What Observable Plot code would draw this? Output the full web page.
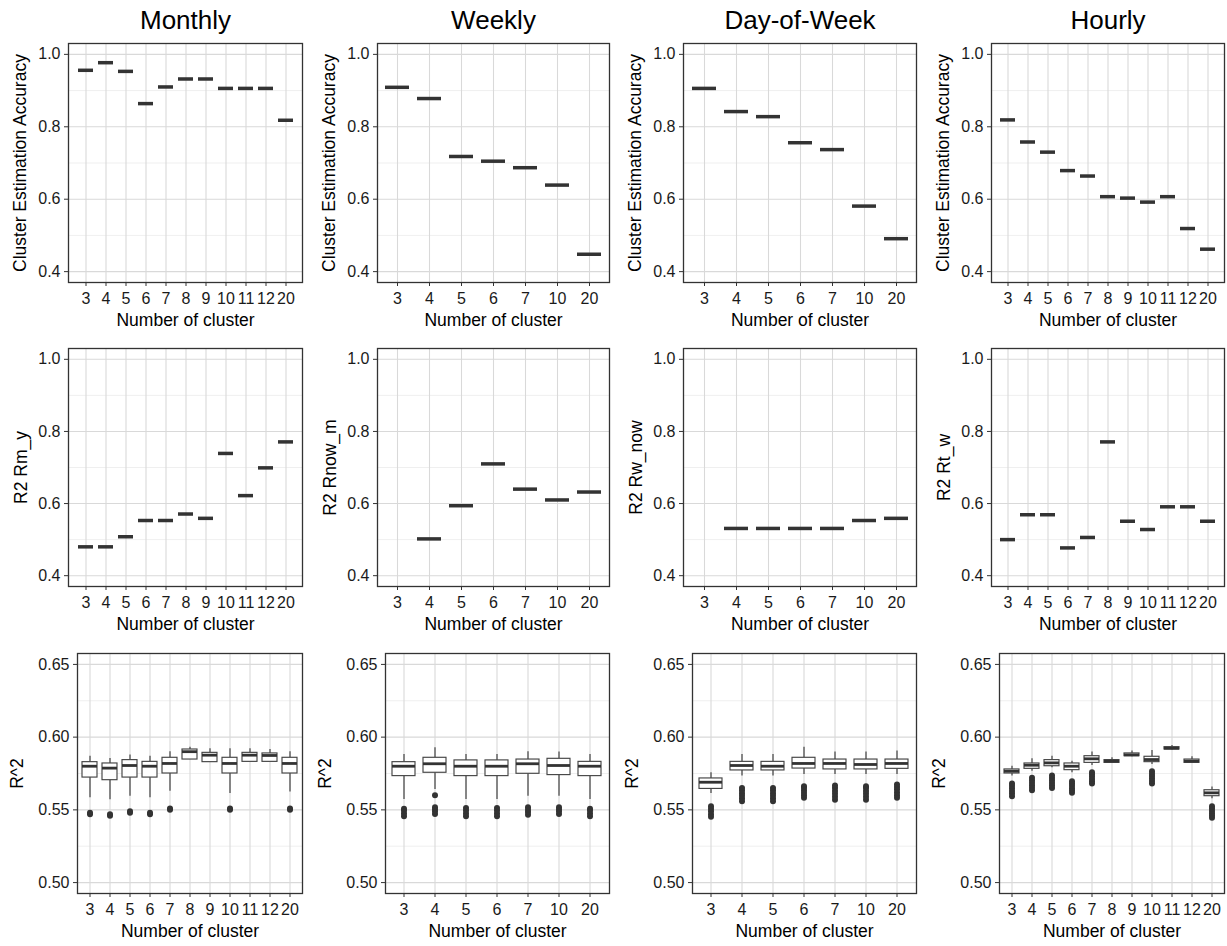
<!DOCTYPE html>
<html><head><meta charset="utf-8">
<script src="https://cdn.jsdelivr.net/npm/d3@7"></script>
<script src="https://cdn.jsdelivr.net/npm/@observablehq/plot@0.6"></script>
<style>
body{margin:0;background:#fff;}
#chart{position:relative;width:1227px;height:946px;font-family:"Liberation Sans",Arial,sans-serif;}
#chart svg{position:absolute;}
</style></head><body><div id="chart"></div>
<script>
// ---------- data ----------
const titles = ["Monthly", "Weekly", "Day-of-Week", "Hourly"];
const clustersMonthly = ["3","4","5","6","7","8","9","10","11","12","20"];
const clustersWeekly  = ["3","4","5","6","7","10","20"];
const clustersDow     = ["3","4","5","6","7","10","20"];
const clustersHourly  = ["3","4","5","6","7","8","9","10","11","12","20"];

const accLabel = "Cluster Estimation Accuracy";
const accMonthly = [0.956,0.977,0.953,0.864,0.910,0.932,0.932,0.906,0.906,0.906,0.818];
const accWeekly  = [0.909,0.878,0.718,0.705,0.687,0.639,0.448];
const accDow     = [0.906,0.842,0.828,0.756,0.737,0.581,0.491];
const accHourly  = [0.819,0.758,0.730,0.679,0.664,0.607,0.603,0.592,0.607,0.519,0.462];

const r2Labels = ["R2 Rm_y", "R2 Rnow_m", "R2 Rw_now", "R2 Rt_w"];
const r2Monthly = [0.480,0.480,0.508,0.553,0.553,0.571,0.559,0.739,0.622,0.699,0.771];
const r2Weekly  = [null,0.502,0.594,0.710,0.640,0.610,0.632];
const r2Dow     = [null,0.531,0.531,0.531,0.531,0.553,0.559];
const r2Hourly  = [0.500,0.569,0.569,0.477,0.506,0.771,0.551,0.528,0.591,0.591,0.551];

const boxLabel = "R^2";
// [lower whisker, Q1, median, Q3, upper whisker]
const boxMonthly = [
  [0.5583,0.5722,0.5800,0.5828,0.5869],[0.5570,0.5704,0.5787,0.5819,0.5853],
  [0.5594,0.5722,0.5805,0.5842,0.5878],[0.5583,0.5722,0.5800,0.5830,0.5869],
  [0.5628,0.5750,0.5819,0.5858,0.5900],[0.5846,0.5846,0.5900,0.5915,0.5931],
  [0.5828,0.5828,0.5876,0.5892,0.5920],[0.5612,0.5750,0.5819,0.5858,0.5920],
  [0.5830,0.5830,0.5876,0.5892,0.5920],[0.5830,0.5830,0.5874,0.5888,0.5915],
  [0.5622,0.5750,0.5819,0.5858,0.5900]];
const outMonthly = [[0.547,0.548],[0.546,0.547],[0.548,0.549],[0.547,0.548],[0.550,0.551],[],[],[0.550,0.551],[],[],[0.550,0.551]];

const boxWeekly = [
  [0.5571,0.5732,0.5800,0.5828,0.5881],[0.5640,0.5755,0.5817,0.5858,0.5927],
  [0.5571,0.5732,0.5800,0.5840,0.5881],[0.5571,0.5732,0.5800,0.5840,0.5881],
  [0.5594,0.5748,0.5817,0.5846,0.5900],[0.5594,0.5739,0.5805,0.5851,0.5897],
  [0.5571,0.5732,0.5800,0.5830,0.5881]];
const outWeekly = [
  [0.5456,0.5475,0.5495,0.5507],[0.5600,0.5472,0.5490,0.5505,0.5518],
  [0.5456,0.5475,0.5495,0.5513],[0.5456,0.5475,0.5495,0.5513],
  [0.5466,0.5485,0.5500,0.5518],[0.5472,0.5490,0.5505,0.5518],
  [0.5456,0.5475,0.5495,0.5507]];

const boxDow = [
  [0.5612,0.5644,0.5690,0.5716,0.5755],[0.5732,0.5771,0.5805,0.5830,0.5881],
  [0.5732,0.5771,0.5800,0.5830,0.5881],[0.5743,0.5784,0.5819,0.5858,0.5931],
  [0.5743,0.5778,0.5819,0.5846,0.5897],[0.5743,0.5778,0.5812,0.5846,0.5897],
  [0.5743,0.5782,0.5819,0.5846,0.5904]];
const outDow = [
  [0.5452,0.5470,0.5490,0.5508,0.5525],[0.5559,0.5578,0.5597,0.5615,0.5633,0.5651],
  [0.5559,0.5578,0.5597,0.5615,0.5633,0.5651],[0.5583,0.5600,0.5617,0.5635,0.5652,0.5663],
  [0.5570,0.5590,0.5610,0.5630,0.5650,0.5667],[0.5570,0.5590,0.5610,0.5630,0.5650,0.5663],
  [0.5583,0.5600,0.5620,0.5640,0.5658,0.5674]];

const boxHourly = [
  [0.5732,0.5750,0.5766,0.5778,0.5800],[0.5766,0.5782,0.5807,0.5819,0.5851],
  [0.5789,0.5800,0.5823,0.5842,0.5869],[0.5755,0.5773,0.5800,0.5819,0.5835],
  [0.5805,0.5823,0.5851,0.5869,0.5897],[0.5818,0.5823,0.5835,0.5842,0.5858],
  [0.5865,0.5869,0.5878,0.5888,0.5904],[0.5812,0.5828,0.5846,0.5865,0.5908],
  [0.5912,0.5915,0.5924,0.5931,0.5943],[0.5818,0.5823,0.5835,0.5846,0.5865],
  [0.5576,0.5594,0.5617,0.5635,0.5658]];
const outHourly = [
  [0.5594,0.5612,0.5630,0.5648,0.5666,0.5681],[0.5635,0.5652,0.5669,0.5686,0.5703,0.5720],
  [0.5651,0.5668,0.5685,0.5702,0.5719,0.5736],[0.5617,0.5633,0.5649,0.5665,0.5681,0.5697],
  [0.5681,0.5697,0.5713,0.5729,0.5745,0.5759],[],[],
  [0.5681,0.5698,0.5715,0.5732,0.5749,0.5766],[],[],
  [0.5445,0.5461,0.5477,0.5493,0.5509,0.5525]];

const accTicks = [0.4,0.6,0.8,1.0], accMinor = [0.5,0.7,0.9];
const boxTicks = [0.50,0.55,0.60,0.65], boxMinor = [0.525,0.575,0.625];
const xTitle = "Number of cluster";

// ---------- layout ----------
const colStart = [0, 307, 614, 921];
const cellW = 306;
const panelRight = [302, 609, 916, 1224];
const panelLeftTop = [68, 377, 683, 991];
const panelLeftBox = [77, 385, 692, 999];
const rows = [
  {top: 0,   height: 330, mt: 43, mb: 48},
  {top: 330, height: 300, mt: 18, mb: 44},
  {top: 630, height: 316, mt: 23, mb: 53}
];

const cats = [clustersMonthly, clustersWeekly, clustersDow, clustersHourly];
const accs = [accMonthly, accWeekly, accDow, accHourly];
const r2s = [r2Monthly, r2Weekly, r2Dow, r2Hourly];
const boxes = [boxMonthly, boxWeekly, boxDow, boxHourly];
const outs = [outMonthly, outWeekly, outDow, outHourly];

const chart = document.getElementById("chart");
const ink = "#333333";

function cell(col, row, dataMarks, cfg) {
  const r = rows[row];
  const pl = row === 2 ? panelLeftBox[col] : panelLeftTop[col];
  const marks = [
    Plot.ruleY(cfg.minor, {stroke: "#ebebeb", strokeWidth: 0.8}),
    Plot.ruleY(cfg.ticks, {stroke: "#d9d9d9", strokeWidth: 1.1}),
    Plot.ruleX(cats[col], {stroke: "#d9d9d9", strokeWidth: 1.1}),
    ...dataMarks,
    Plot.frame({stroke: ink, strokeWidth: 1.3}),
    Plot.axisY({ticks: cfg.ticks, tickFormat: cfg.fmt, tickSize: 4, tickPadding: 4, fontSize: 16, stroke: ink, label: null}),
    Plot.axisX({tickSize: 4, tickPadding: 6, fontSize: 16, stroke: ink, label: null}),
    Plot.text([cfg.yLabel], {text: d => d, frameAnchor: "left", rotate: -90, dx: cfg.ydx, fontSize: 17.5, lineAnchor: "middle", textAnchor: "middle", fill: "#000"}),
    Plot.text([xTitle], {text: d => d, frameAnchor: "bottom", dy: 38, fontSize: 17.5, lineAnchor: "middle", fill: "#000"})
  ];
  if (row === 0) marks.push(Plot.text([titles[col]], {text: d => d, frameAnchor: "top", dy: -23, fontSize: 26, lineAnchor: "middle", fill: "#000"}));
  const svg = Plot.plot({
    width: cellW, height: r.height,
    marginLeft: pl - colStart[col], marginRight: colStart[col] + cellW - panelRight[col],
    marginTop: r.mt, marginBottom: r.mb,
    x: {type: "band", domain: cats[col], paddingInner: 0.25, paddingOuter: 0.225},
    y: {domain: cfg.domain},
    style: {fontFamily: "'Liberation Sans', Arial, sans-serif", background: "transparent", color: "#1a1a1a", overflow: "visible"},
    marks
  });
  svg.style.left = colStart[col] + "px";
  svg.style.top = r.top + "px";
  chart.appendChild(svg);
}

const fmt1 = d3.format(".1f"), fmt2 = d3.format(".2f");
for (let c = 0; c < 4; c++) {
  const accData = cats[c].map((k, i) => ({c: k, v: accs[c][i]}));
  cell(c, 0, [Plot.tickY(accData, {x: "c", y: "v", stroke: ink, strokeWidth: 3.5})],
    {domain: [0.37, 1.03], ticks: accTicks, minor: accMinor, fmt: fmt1, yLabel: accLabel, ydx: -48});

  const r2Data = cats[c].map((k, i) => ({c: k, v: r2s[c][i]})).filter(d => d.v != null);
  cell(c, 1, [Plot.tickY(r2Data, {x: "c", y: "v", stroke: ink, strokeWidth: 3.5})],
    {domain: [0.37, 1.03], ticks: accTicks, minor: accMinor, fmt: fmt1, yLabel: r2Labels[c], ydx: -47});

  const bx = cats[c].map((k, i) => {
    const [lo, q1, med, q3, hi] = boxes[c][i];
    return {c: k, lo, q1, med, q3, hi};
  });
  const od = cats[c].flatMap((k, i) => outs[c][i].map(v => ({c: k, v})));
  cell(c, 2, [
    Plot.ruleX(bx, {x: "c", y1: "lo", y2: "q1", stroke: ink, strokeWidth: 1.1}),
    Plot.ruleX(bx, {x: "c", y1: "q3", y2: "hi", stroke: ink, strokeWidth: 1.1}),
    Plot.barY(bx, {x: "c", y1: "q1", y2: "q3", fill: "white", stroke: "#444", strokeWidth: 1.15}),
    Plot.tickY(bx, {x: "c", y: "med", stroke: ink, strokeWidth: 2.8}),
    Plot.dot(od, {x: "c", y: "v", r: 3, fill: ink, stroke: "none"})
  ], {domain: [0.4925, 0.6575], ticks: boxTicks, minor: boxMinor, fmt: fmt2, yLabel: boxLabel, ydx: -60});
}
</script></body></html>
